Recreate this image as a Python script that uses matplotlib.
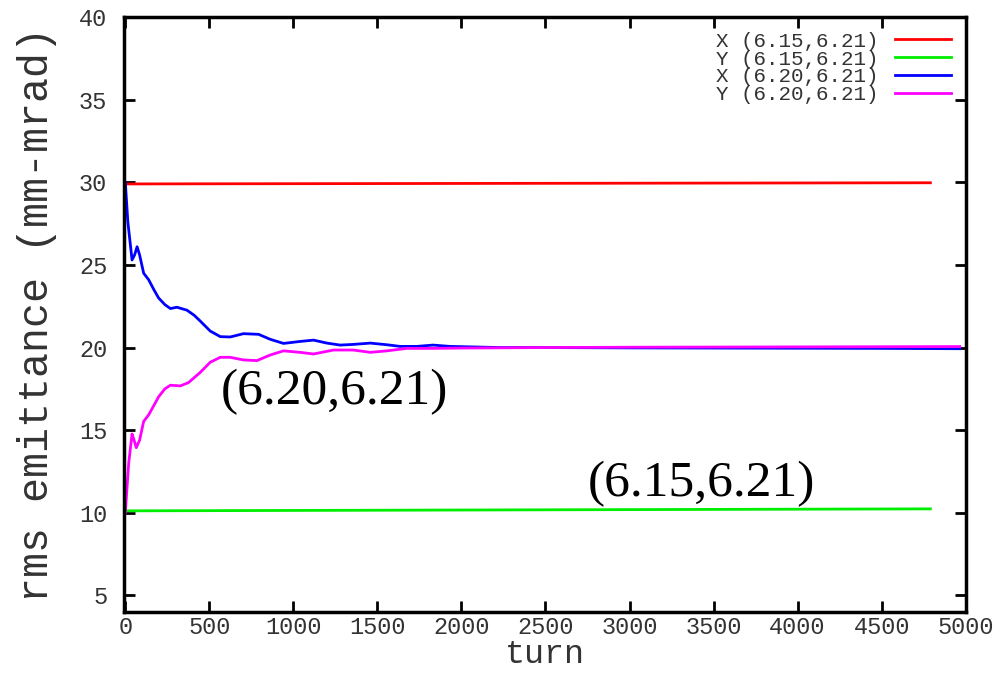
import matplotlib
matplotlib.use("Agg")
import matplotlib.pyplot as plt

# horizontal reference lines, tune (6.15,6.21)
flat_turn = [0, 4790]
x_615 = [29.90, 29.97]
y_615 = [10.12, 10.24]

# tune (6.20,6.21)
blue_turn = [0, 15, 40, 55, 70, 85, 109, 139, 170, 198, 235, 268, 307, 367, 410,
             446, 505, 565, 624, 703, 793, 862, 941, 1040, 1120, 1199, 1278, 1357,
             1457, 1556, 1635, 1734, 1831, 1932, 2229, 2500, 3000, 3500, 4000,
             4500, 4965]
x_620 = [30.0, 27.6, 25.3, 25.6, 26.1, 25.6, 24.5, 24.1, 23.5, 23.0, 22.6, 22.36,
         22.44, 22.26, 21.95, 21.6, 21.0, 20.66, 20.64, 20.84, 20.8, 20.5, 20.25,
         20.37, 20.45, 20.27, 20.15, 20.19, 20.27, 20.17, 20.07, 20.07, 20.15,
         20.07, 20.0, 20.0, 19.98, 19.97, 19.96, 19.95, 19.93]

mag_turn = [0, 20, 40, 52, 65, 85, 109, 139, 170, 198, 235, 268, 327, 376, 446,
            505, 565, 624, 703, 783, 862, 941, 1040, 1120, 1238, 1357, 1457, 1556,
            1675, 1831, 2000, 2500, 3000, 3500, 4000, 4500, 4965]
y_620 = [10.0, 13.0, 14.77, 14.4, 13.94, 14.4, 15.53, 15.93, 16.5, 17.02, 17.5,
         17.72, 17.68, 17.88, 18.5, 19.11, 19.41, 19.41, 19.25, 19.21, 19.55, 19.8,
         19.71, 19.61, 19.85, 19.85, 19.71, 19.8, 19.95, 19.95, 19.97, 20.0, 20.02,
         20.03, 20.04, 20.05, 20.06]

labels = ["X (6.15,6.21)", "Y (6.15,6.21)", "X (6.20,6.21)", "Y (6.20,6.21)"]
colors = ["#ff0000", "#00ee00", "#0000ff", "#ff00ff"]

mono = "Liberation Mono"
serif = "Liberation Serif"
grey = "#333333"

fig = plt.figure(figsize=(10.08, 6.8), dpi=100)
ax = fig.add_axes([0.123, 0.1, 0.835, 0.875])

ax.plot(flat_turn, x_615, color=colors[0], lw=2, label=labels[0])
ax.plot(flat_turn, y_615, color=colors[1], lw=2, label=labels[1])
ax.plot(blue_turn, x_620, color=colors[2], lw=2, label=labels[2])
ax.plot(mag_turn, y_620, color=colors[3], lw=2, label=labels[3])

ax.set_xlim(-8, 5000)
ax.set_ylim(4, 40)
ax.set_xticks(range(0, 5001, 500))
ax.set_yticks(range(5, 41, 5))

for s in ax.spines.values():
    s.set_linewidth(2.5)
ax.tick_params(direction="in", length=8, width=2, top=True, right=True,
               labelsize=17, labelcolor=grey)
ax.tick_params(axis="y", pad=12)
ax.tick_params(axis="x", pad=3)
for t in ax.get_xticklabels() + ax.get_yticklabels():
    t.set_family(mono)

ax.set_xlabel("turn", family=mono, fontsize=24, color=grey, labelpad=0)
ax.set_ylabel("rms emittance (mm-mrad)", family=mono, fontsize=30, color=grey,
              labelpad=16)

ax.text(1243, 17.3, "(6.20,6.21)", family=serif, fontsize=37,
        ha="center", va="center")
ax.text(3425, 11.75, "(6.15,6.21)", family=serif, fontsize=37,
        ha="center", va="center")

leg = ax.legend(loc="upper right", frameon=False, markerfirst=False,
                prop={"family": mono, "size": 15}, labelspacing=-0.05,
                handlelength=2.7, handletextpad=0.8, borderaxespad=0.5,
                borderpad=0.2)
for t in leg.get_texts():
    t.set_color(grey)

fig.savefig("out.png", dpi=100)
